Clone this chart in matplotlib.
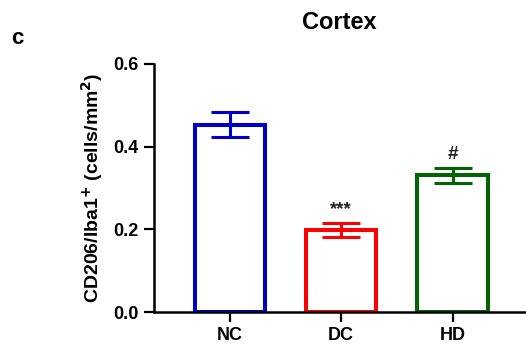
import matplotlib.pyplot as plt
import numpy as np

plt.rcParams['font.family'] = ['Liberation Sans', 'DejaVu Sans']
plt.rcParams['font.weight'] = 'bold'

groups = ['NC', 'DC', 'HD']
means = [0.453, 0.199, 0.331]
sem = [0.030, 0.017, 0.018]
colors = ['#0000cc', '#ff0000', '#006400']
marks = ['', '***', '#']

fig = plt.figure(figsize=(5.26, 3.49), dpi=100)
ax = fig.add_axes([0.293, 0.106, 0.707, 0.711])

x = np.arange(len(groups))
for i in range(len(groups)):
    ax.bar(x[i], means[i], width=0.63, facecolor='white', edgecolor=colors[i],
           linewidth=2.9, zorder=2)
    ax.errorbar(x[i], means[i], yerr=sem[i], color=colors[i], capsize=13.5,
                elinewidth=2.2, capthick=2.2, zorder=3)
    if marks[i]:
        ax.text(x[i], means[i] + sem[i] + 0.012, marks[i], ha='center', va='bottom',
                fontsize=13.5, fontweight='bold', color='#222222')

ax.set_xlim(-0.68, 2.66)
ax.set_ylim(0, 0.6)
ax.set_yticks([0.0, 0.2, 0.4, 0.6])
ax.set_yticklabels(['0.0', '0.2', '0.4', '0.6'])
ax.set_xticks(x)
ax.set_xticklabels(groups)
ax.tick_params(axis='both', width=1.6, length=7, labelsize=13, pad=4)
for s in ['top', 'right']:
    ax.spines[s].set_visible(False)
for s in ['left', 'bottom']:
    ax.spines[s].set_linewidth(1.8)

ax.set_ylabel('CD206/Iba1$^{\\mathbf{+}}$ (cells/mm$^{\\mathbf{2}}$)', fontsize=14,
              fontweight='bold', labelpad=6)
fig.text(0.645, 0.935, 'Cortex', ha='center', va='center', fontsize=17, fontweight='bold')
fig.text(0.022, 0.89, 'c', ha='left', va='center', fontsize=16, fontweight='bold')

fig.savefig('out.png', dpi=100)
